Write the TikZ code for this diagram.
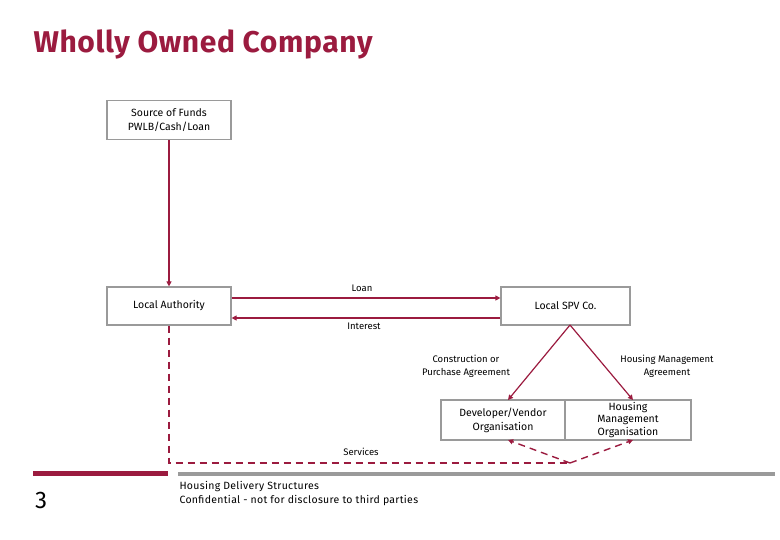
\documentclass[tikz,border=0pt]{standalone}
\usepackage{fontspec}
\setmainfont{Fira Sans}
\usetikzlibrary{arrows.meta}
\definecolor{crim}{HTML}{9B1B3F}
\definecolor{bx}{HTML}{9A9A9A}
\begin{document}
\begin{tikzpicture}[x=1pt,y=-1pt,
  box/.style={draw=bx,line width=1.2pt,minimum width=#1,minimum height=39pt,inner sep=1pt,align=center,font=\fontsize{10.5}{14}\selectfont},
  lbl/.style={font=\fontsize{9.5}{13}\selectfont,align=center},
  arr/.style={draw=crim,line width=1.2pt,-{Triangle[length=5pt,width=5pt]}},
  dsh/.style={draw=crim,line width=1.4pt,dashed,dash pattern=on 7pt off 5pt}]
\useasboundingbox (0,0) rectangle (780,540);
\node[anchor=west,text=crim,font=\fontsize{30}{32}\selectfont\addfontfeature{LetterSpace=2}] (title) at (30,44) {\textbf{Wholly Owned Company}};
\node[box=124pt] (src) at (169,120) {Source of Funds\\PWLB/Cash/Loan};
\node[box=124pt,minimum height=38pt] (la) at (169,306) {Local Authority};
\node[box=129pt,minimum height=38pt] (spv) at (565.5,306) {Local SPV Co.};
\node[box=124pt,minimum height=40pt] (dev) at (503,420) {Developer/Vendor\\Organisation};
\node[box=126pt,minimum height=40pt,inner sep=0pt,font=\fontsize{10.5}{12.5}\selectfont] (hm) at (628,420) {Housing\\Management\\Organisation};
\coordinate (apex) at (570,325);
\coordinate (lab) at (169,463);
\coordinate (mid) at (570,463);
\draw[arr] (src) -- (la);
\draw[arr] (la.east |- 0,298) -- (spv.west |- 0,298);
\draw[arr] (spv.west |- 0,318) -- (la.east |- 0,318);
\draw[arr] (apex) -- (508,400);
\draw[arr] (apex) -- (633,400);
\draw[dsh] (la.south) -- (lab) -- (mid);
\draw[dsh,-{Triangle[length=5pt,width=5pt]}] (mid) -- (508,440);
\draw[dsh,-{Triangle[length=5pt,width=5pt]}] (mid) -- (633,440);
\node[lbl] (l1) at (362,288) {Loan};
\node[lbl] (l2) at (364,326) {Interest};
\node[lbl] (l3) at (466,366) {Construction or\\Purchase Agreement};
\node[lbl] (l4) at (667,366) {Housing Management\\Agreement};
\node[lbl] (l5) at (361,452) {Services};
\draw[crim,line width=5pt] (33,473) -- (168,473);
\draw[bx,line width=4pt] (178,474) -- (775,474);
\node[font=\fontsize{24}{26}\selectfont] (pg) at (41,500) {3};
\node[anchor=north west,align=left,font=\fontsize{10.5}{13.5}\selectfont\addfontfeature{LetterSpace=3}] (ft) at (176,478) {Housing Delivery Structures\\Confidential - not for disclosure to third parties};
\end{tikzpicture}
\end{document}
